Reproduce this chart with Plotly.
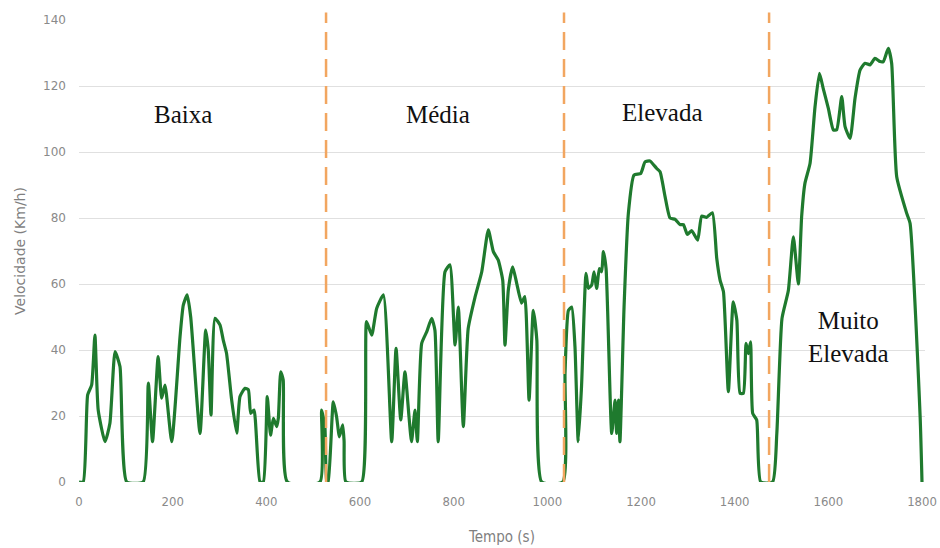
import plotly.graph_objects as go

# Time (s) and speed (km/h)
tempo = [0, 9, 18.5, 27, 34, 41, 55.5, 66, 77, 87.5, 102, 137, 148, 157, 169, 176.5, 183.6, 198,
         215.7, 222.7, 231, 238.5, 258.4, 270.5, 276, 281.9, 290.4, 301, 308, 315, 326, 336.7,
         343.8, 354.5, 361.6, 366.6, 373.7, 386.5, 393.6, 402, 409, 415, 422, 425.6, 430.7, 436,
         444.8, 514.6, 518, 525, 529, 532, 543, 550, 556, 563, 566, 570,
         603.6, 614, 625, 635.6, 650, 667.7, 677, 687, 696, 704.6, 710, 717.5, 722.5, 731.7,
         742.4, 753, 760, 767, 781.5, 792, 803, 810, 820.6, 831, 845.6, 860, 874, 884.7, 895,
         904.7, 909.6, 916.7, 926, 934.6, 945, 952, 961, 970, 977.6, 988,
         1033, 1037.8, 1045, 1052, 1059, 1066, 1073, 1082.6, 1087.6, 1094.7, 1099.7, 1105.4,
         1111, 1116, 1119.6, 1125.4, 1137.5, 1144.6, 1148, 1151.7, 1155, 1163.8, 1173, 1185,
         1199.4, 1208.6, 1219, 1233.6, 1240.7, 1251.4, 1262, 1273, 1283.4, 1290.5, 1299, 1308,
         1321, 1329.6, 1340, 1352.4, 1361.7, 1368.8, 1376, 1386.5, 1397, 1404.6, 1411.5,
         1418.6, 1424.3, 1429.2, 1434, 1438.5, 1447, 1455.6,
         1481, 1490, 1501, 1514.6, 1525.3, 1536, 1543, 1550, 1561, 1571.6, 1581, 1589, 1600,
         1610.7, 1617.8, 1628.6, 1635.7, 1646.4, 1657, 1667.7, 1678.4, 1689, 1699.7, 1710.4,
         1717.5, 1728, 1735.2, 1746, 1767.4, 1774.5, 1796, 1800]
velocidade = [0, 0, 26.4, 29.4, 44.5, 21.8, 12.2, 17.8, 39.5, 35, 0, 0, 30, 12.2, 38, 25.4, 29.4, 12.2,
              44, 53.6, 56.7, 50, 14.7, 46, 40, 20.3, 49.6, 47.6, 43, 39, 24.8, 14.8,
              25.9, 28.4, 28, 20.8, 21.8, 0, 0, 25.9, 14.2, 19.3, 16.8, 19.3, 33.4, 31,
              0, 0, 21.8, 16.8, 0, 0, 24.3, 19.8, 13.7, 17.3, 12.5, 0,
              0, 48.6, 44.5, 52.6, 56.7, 12.2, 40.5, 18.8, 33.4, 19.8, 12.2, 21.8, 12.2, 42,
              45.5, 49.6, 46, 12.2, 63.7, 65.8, 41.5, 53, 16.8, 46.5, 56, 63.7, 76.4, 69.8, 67.3,
              61.2, 41.5, 58.2, 65.2, 60.2, 54.2, 56.2, 24.8, 52, 43, 0,
              0, 33, 52, 53, 41, 12.2, 28.9, 63.2, 58.7, 59.7, 63.7, 58.7,
              64.7, 63.7, 69.8, 64.7, 14.7, 24.8, 14.7, 24.8, 12.2, 53, 81.4, 93,
              93.5, 97, 97.3, 95, 94, 86.5, 80, 79.6, 78, 78, 75, 76.2,
              73.3, 80.6, 80.2, 81.6, 67.8, 61.2, 57.7, 27.4, 54.6, 49.1, 26.9,
              26.9, 42, 38.9, 42.5, 20.8, 18.8, 0,
              0, 14.7, 49.5, 58, 74.3, 60, 80.4, 90.5, 96.6, 113.7, 123.8, 119.3, 113.2,
              106.7, 106.7, 116.8, 107.7, 104.1, 116.3, 124.8, 126.9, 126.4, 128.4, 127.4,
              127.4, 131.4, 126.9, 92.5, 81.4, 78.4, 19.8, 0]

# Phase boundaries (s) as drawn in the reference
fronteiras = [527.5, 1035.6, 1473.5]

# Phase labels
fases = ["Baixa", "Média", "Elevada", "Muito<br>Elevada"]
fases_x = [222, 767, 1245, 1642]
fases_y = [111.5, 111.5, 112, 44]

x_ticks = list(range(0, 1801, 200))
y_ticks = list(range(0, 141, 20))

fig = go.Figure()
fig.add_trace(go.Scatter(x=tempo, y=velocidade, mode="lines", cliponaxis=False,
                         line=dict(color="#1f7a2e", width=3.2, shape="spline", smoothing=0.5),
                         showlegend=False, hoverinfo="skip"))

for fx in fronteiras:
    fig.add_shape(type="line", xref="x", yref="paper", x0=fx, x1=fx, y0=0, y1=1.016,
                  line=dict(color="#f2a660", width=2.5, dash="18px,9px"))

for txt, fx, fy in zip(fases, fases_x, fases_y):
    fig.add_annotation(x=fx, y=fy, xref="x", yref="y", text=txt, showarrow=False,
                       font=dict(family="Liberation Serif, Times New Roman, serif",
                                 size=25, color="#111111"),
                       align="center")

fig.update_layout(
    width=940, height=548,
    margin=dict(l=79, r=15, t=20, b=66, autoexpand=False),
    paper_bgcolor="white", plot_bgcolor="white",
    xaxis=dict(range=[0, 1806.4], tickvals=x_ticks, ticktext=[str(v) for v in x_ticks],
               showgrid=False, zeroline=False, showline=False, automargin=False,
               ticklabelstandoff=10,
               tickfont=dict(family="Liberation Sans Narrow, DejaVu Sans Condensed, Liberation Sans",
                             size=13, color="#8a8a8a"),
               title=dict(text="Tempo (s)", standoff=23,
                          font=dict(family="Liberation Sans Narrow, DejaVu Sans Condensed, Liberation Sans",
                                    size=15, color="#7f7f7f"))),
    yaxis=dict(range=[0, 140], tickvals=y_ticks, showgrid=True, gridcolor="#e0e0e0",
               gridwidth=1, zeroline=False, showline=False, ticklabelstandoff=12,
               automargin=False,
               tickfont=dict(family="DejaVu Sans, Liberation Sans", size=12, color="#8a8a8a"),
               title=dict(text="Velocidade (Km/h)", standoff=14,
                          font=dict(family="DejaVu Sans, Liberation Sans", size=14,
                                    color="#7f7f7f"))),
)

fig.write_html("out.html")
